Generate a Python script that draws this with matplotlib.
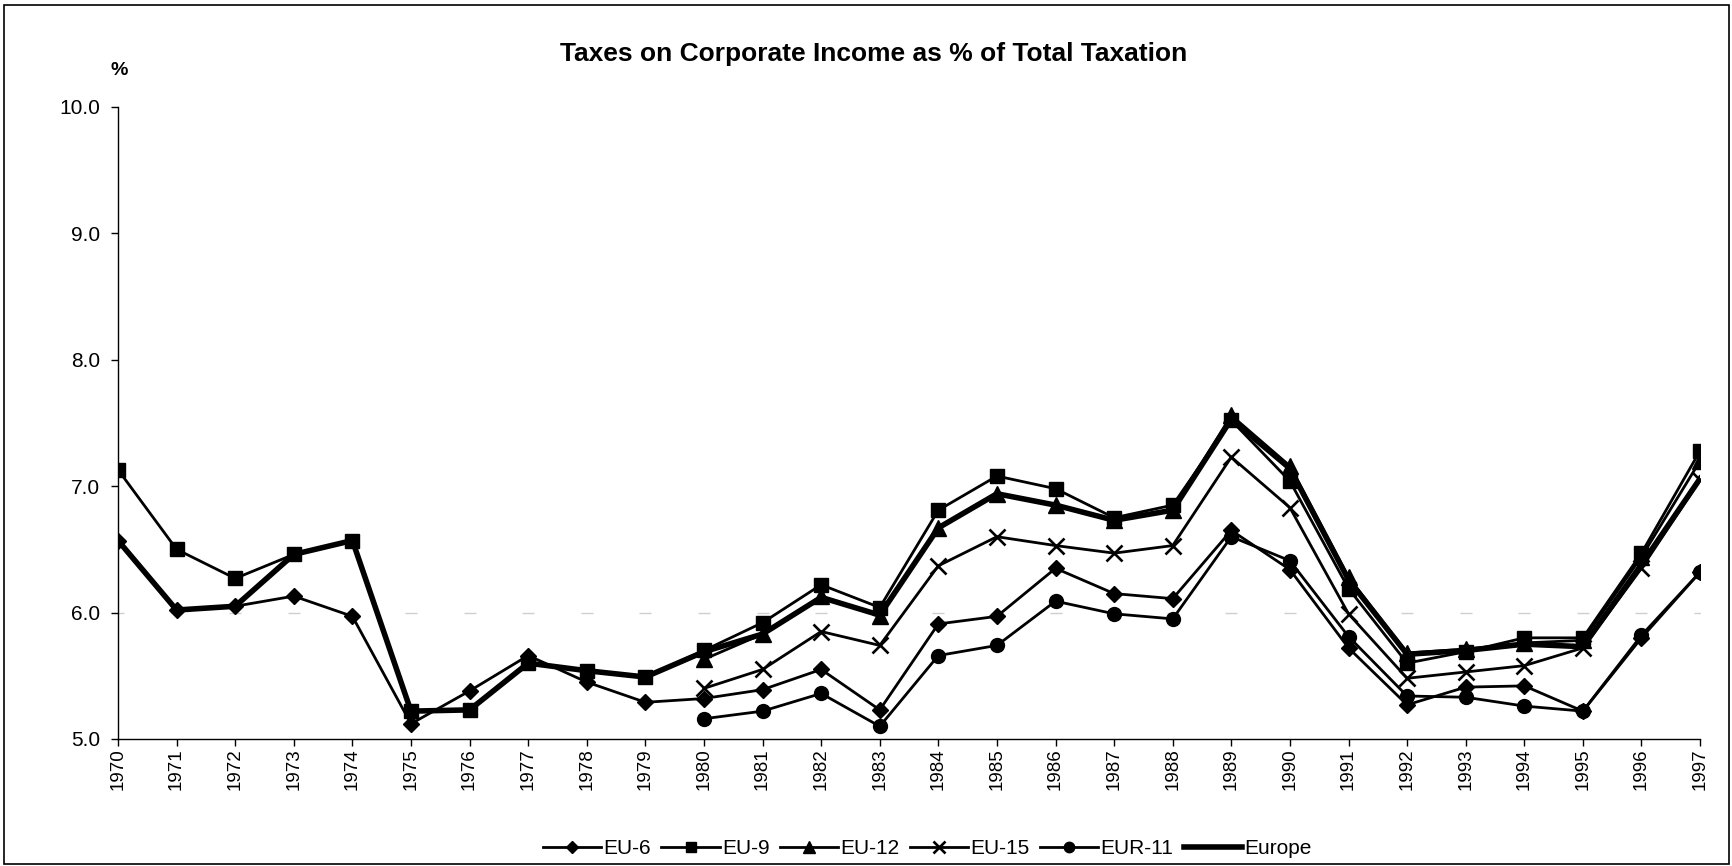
import numpy as np
import matplotlib
matplotlib.use("Agg")
import matplotlib.pyplot as plt
from matplotlib.patches import Rectangle

plt.rcParams['font.family'] = ['Liberation Sans', 'DejaVu Sans']

years = list(range(1970, 1998))
nan = np.nan

eu6 = [6.57, 6.02, 6.05, 6.13, 5.97, 5.12, 5.38, 5.66, 5.45, 5.29,
       5.32, 5.39, 5.55, 5.23, 5.91, 5.97, 6.35, 6.15, 6.11, 6.65,
       6.34, 5.72, 5.27, 5.41, 5.42, 5.22, 5.80, 6.32]
eu9 = [7.13, 6.50, 6.27, 6.46, 6.57, 5.22, 5.23, 5.60, 5.54, 5.49,
       5.70, 5.92, 6.22, 6.04, 6.81, 7.08, 6.98, 6.75, 6.85, 7.52,
       7.04, 6.19, 5.60, 5.69, 5.80, 5.80, 6.47, 7.28]
eu12 = [nan] * 10 + [5.63, 5.83, 6.13, 5.97, 6.67, 6.94, 6.85, 6.73, 6.81, 7.56,
                     7.16, 6.28, 5.68, 5.71, 5.76, 5.78, 6.44, 7.20]
eu15 = [nan] * 10 + [5.40, 5.55, 5.85, 5.74, 6.37, 6.60, 6.53, 6.47, 6.53, 7.23,
                     6.83, 5.99, 5.48, 5.53, 5.58, 5.72, 6.35, 7.05]
eur11 = [nan] * 10 + [5.16, 5.22, 5.36, 5.10, 5.66, 5.74, 6.09, 5.99, 5.95, 6.60,
                      6.41, 5.81, 5.34, 5.33, 5.26, 5.22, 5.82, 6.32]
europe = [6.57, 6.02, 6.05, 6.46, 6.57, 5.22, 5.23, 5.60, 5.54, 5.49,
          5.69, 5.83, 6.12, 5.98, 6.67, 6.94, 6.85, 6.73, 6.81, 7.53,
          7.14, 6.26, 5.67, 5.70, 5.75, 5.73, 6.38, 7.06]
ref_level = [6.0] * len(years)

y_ticks = [5.0, 6.0, 7.0, 8.0, 9.0, 10.0]

fig = plt.figure(figsize=(17.33, 8.66), dpi=100)
ax = fig.add_axes([0.0681, 0.1467, 0.9129, 0.7298])

# faint reference dashes at 6.0
ax.plot(years, ref_level, ls='none', marker='_', ms=9, mew=1.0,
        color='#cfcfcf', zorder=1)

lw = 2.0
ax.plot(years, eu6, color='black', lw=lw, marker='D', ms=8, label='EU-6', zorder=3)
ax.plot(years, eu9, color='black', lw=lw, marker='s', ms=10.5, label='EU-9', zorder=3)
ax.plot(years, eu12, color='black', lw=lw, marker='^', ms=11, label='EU-12', zorder=3)
ax.plot(years, eu15, color='black', lw=lw, marker='x', ms=11.5, mew=1.9, label='EU-15', zorder=3)
ax.plot(years, eur11, color='black', lw=lw, marker='o', ms=10, label='EUR-11', zorder=3)
ax.plot(years, europe, color='black', lw=4.0, label='Europe', zorder=4)

ax.set_xlim(1970, 1997)
ax.set_ylim(5.0, 10.0)
ax.set_xticks(years)
ax.set_xticklabels([str(y) for y in years], rotation=90, fontsize=13.5)
ax.set_yticks(y_ticks)
ax.set_yticklabels([f"{v:.1f}" for v in y_ticks], fontsize=15)
ax.tick_params(axis='both', direction='out', length=5, width=1.0, color='black')
ax.tick_params(axis='y', pad=8)
ax.tick_params(axis='x', pad=2)
for s in ['top', 'right']:
    ax.spines[s].set_visible(False)
for s in ['left', 'bottom']:
    ax.spines[s].set_linewidth(1.0)

fig.text(0.504, 0.938, 'Taxes on Corporate Income as % of Total Taxation',
         ha='center', va='center', fontsize=19, fontweight='bold')
fig.text(0.0685, 0.919, '%', ha='center', va='center', fontsize=14, fontweight='bold')

handles, labels = ax.get_legend_handles_labels()
leg = fig.legend(handles, labels, loc='center', bbox_to_anchor=(0.535, 0.020),
                 ncol=6, frameon=False, fontsize=15, handlelength=2.8,
                 handletextpad=0.1, columnspacing=0.5, markerscale=0.75)

fig.patches.append(Rectangle((4 / 1733, 2 / 866), 1 - 8 / 1733, 1 - 7 / 866,
                             transform=fig.transFigure, fill=False,
                             edgecolor='black', lw=1.2))

fig.savefig('out.png', dpi=100, facecolor='white')
